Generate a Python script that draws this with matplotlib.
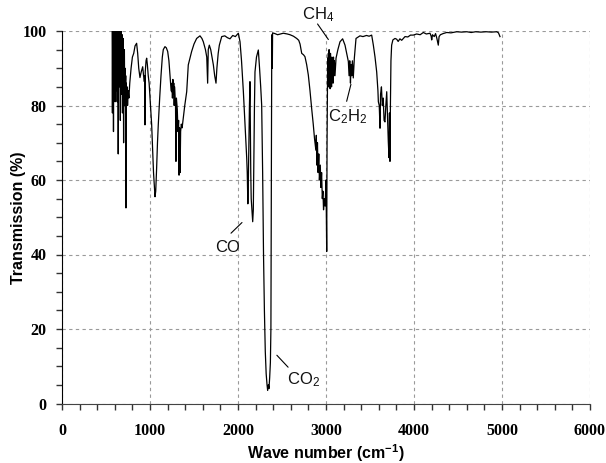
import matplotlib
matplotlib.use("Agg")
import matplotlib.pyplot as plt
from matplotlib.ticker import MultipleLocator

# Spectrum (wave number in cm-1, transmission in %)
wavenumber = [
    570, 573, 576, 579, 582, 585, 588, 591, 594, 597, 600, 603, 606, 609, 612, 615, 618, 621, 624, 627,
    630, 633, 636, 639, 642, 645, 648, 651, 654, 657, 660, 663, 666, 669, 672, 675, 678, 681, 684, 687,
    690, 693, 696, 700, 703, 706, 709, 713, 717, 721, 724, 727, 730, 735, 740, 745, 752, 760, 770, 785,
    800, 815, 830, 848, 860, 872, 886, 900, 917, 927, 936, 940, 943, 946, 955, 962, 970, 980, 990, 1000,
    1010, 1019, 1030, 1040, 1049, 1057, 1065, 1075, 1085, 1094, 1110, 1125, 1140, 1151, 1170, 1185, 1201,
    1215, 1227, 1240, 1246, 1250, 1255, 1260, 1265, 1270, 1275, 1280, 1290, 1295, 1300, 1310, 1318, 1325,
    1330, 1336, 1342, 1348, 1356, 1365, 1378, 1395, 1417, 1435, 1473, 1500, 1530, 1568, 1590, 1606, 1630,
    1645, 1655, 1662, 1674, 1690, 1705, 1720, 1735, 1750, 1760, 1775, 1788, 1815, 1850, 1880, 1909, 1940,
    1970, 2004, 2023, 2040, 2061, 2080, 2099, 2105, 2112, 2118, 2124, 2130, 2136, 2140, 2145, 2150, 2158,
    2167, 2174, 2180, 2187, 2193, 2210, 2231, 2245, 2258, 2269, 2280, 2290, 2300, 2310, 2320, 2330, 2337,
    2345, 2352, 2360, 2368, 2374, 2378, 2381, 2383, 2386, 2390, 2393, 2420, 2450, 2515, 2560, 2591, 2630,
    2667, 2690, 2705, 2724, 2745, 2761, 2780, 2799, 2818, 2837, 2855, 2870, 2885, 2890, 2896, 2903, 2910,
    2918, 2925, 2935, 2942, 2950, 2958, 2965, 2972, 2980, 2990, 3000, 3005, 3008, 3012, 3019, 3023, 3027,
    3031, 3035, 3039, 3043, 3047, 3051, 3055, 3059, 3063, 3067, 3071, 3075, 3080, 3085, 3090, 3095, 3102,
    3114, 3135, 3159, 3189, 3216, 3235, 3254, 3262, 3270, 3278, 3285, 3292, 3300, 3310, 3316, 3322, 3330,
    3341, 3386, 3420, 3460, 3490, 3519, 3538, 3557, 3576, 3590, 3595, 3605, 3614, 3620, 3630, 3640, 3650,
    3660, 3670, 3680, 3690, 3700, 3708, 3716, 3721, 3727, 3732, 3738, 3746, 3760, 3784, 3803, 3820, 3840,
    3860, 3898, 3930, 3960, 3992, 4030, 4070, 4106, 4140, 4182, 4195, 4201, 4210, 4230, 4245, 4260, 4276,
    4285, 4300, 4330, 4371, 4420, 4485, 4540, 4600, 4650, 4700, 4760, 4820, 4880, 4940, 4960, 4977,
]
transmission = [
    100, 78, 100, 92, 100, 73, 100, 90, 100, 86, 100, 81, 99, 90, 100, 84, 100, 93, 100, 81,
    99, 88, 100, 67, 98, 90, 100, 85, 98, 92, 100, 76, 98, 88, 100, 83, 96, 90, 99, 78,
    95, 88, 98, 70, 92, 85, 95, 80, 90, 83, 88, 52.5, 86, 82, 85, 80, 84, 82, 86, 90,
    93, 94, 96, 96.7, 94, 90, 87.5, 89, 90.4, 88, 86.4, 88, 74.8, 89, 92, 92.7, 91, 88, 86, 82,
    78, 74.8, 68, 62, 58.7, 55.5, 57, 63, 70, 74.8, 82, 88, 93, 95, 95.8, 95.5, 94.5,
    92, 88, 84, 83.7, 86, 82, 87, 83, 86, 80, 85, 80, 65, 82, 79, 73, 76,
    61.3, 74, 62, 73, 75, 74, 76.5, 80, 83.7, 90.9, 94.5, 96.5, 98, 98.7, 98, 97.1, 95,
    93, 86, 95, 96.2, 95, 93, 90.9, 88, 86, 90, 94, 96.2, 98.5, 98.7, 98.2, 97.9, 98.8,
    98.5, 99.4, 97.1, 92, 83.7, 74.8, 65.9, 62, 53.6, 60.5, 70, 80, 86.4, 75, 62, 55, 52,
    48.8, 52, 65, 80, 89, 93, 94.9, 90, 85, 80.1, 62, 40, 25, 14, 8, 5, 3.5,
    5, 4, 7, 11, 20, 50, 80, 92, 99, 90, 99.5, 99.3, 99, 99.4, 99.2, 99, 98.6,
    98, 97.5, 96.5, 94, 93.6, 93.1, 91, 88.2, 84, 79.2, 75, 71, 68, 72, 64, 70, 62,
    67, 60, 64, 58, 62, 55, 57, 52, 55, 53, 60, 48, 40.8, 70, 92.7, 88, 94,
    85, 95, 86, 93, 84.5, 94, 86, 92, 85, 93, 87, 91, 86, 93, 88, 92, 88,
    92.7, 95, 97.1, 97.9, 96.2, 94, 91.8, 88, 92, 86, 91, 88, 92, 87.4, 90, 92.7, 95,
    98, 98.7, 98.5, 98.8, 98.6, 98.9, 96.2, 93, 89, 84, 81, 80, 73.9, 83, 85, 80, 82,
    76, 75.6, 80, 83.7, 76, 70.3, 66, 78, 65, 80, 92, 96.2, 97.6, 98, 97.8, 97.2, 97.9,
    97.5, 98.5, 98.4, 98.9, 98.9, 99.2, 99, 99.6, 99.2, 99.4, 98.6, 97.6, 99, 98.5, 99.3, 98, 96.2,
    98.5, 99, 99.3, 99.6, 99.5, 99.8, 99.7, 99.8, 99.6, 99.8, 99.7, 99.8, 99.7, 99.8, 99.5, 98.5,
]

x_ticks = [0, 1000, 2000, 3000, 4000, 5000, 6000]
y_ticks = [0, 20, 40, 60, 80, 100]

# gas labels: text, text position, line start, line end
gas_labels = ["CO", "CO$_2$", "CH$_4$", "C$_2$H$_2$"]
label_pos = [(1886, 42), (2742, 6.5), (2909, 104.3), (3250, 77)]
line_from = [(1898, 45.2), (2420, 13.5), (2886, 102.5), (3227, 80.4)]
line_to = [(2068, 49.1), (2591, 9.2), (3045, 97.1), (3291, 86.4)]

narrow = ["Liberation Sans Narrow", "Liberation Sans", "DejaVu Sans"]
plt.rcParams["mathtext.default"] = "regular"

fig = plt.figure(figsize=(6.06, 4.63), dpi=100)
ax = fig.add_axes([62 / 606, 1 - 403.5 / 463, 528 / 606, 372.5 / 463])

ax.plot(wavenumber, transmission, color="black", lw=0.9, zorder=3)

ax.set_xlim(0, 6000)
ax.set_ylim(0, 100)
ax.set_xticks(x_ticks)
ax.set_yticks(y_ticks)
ax.xaxis.set_minor_locator(MultipleLocator(200))
ax.yaxis.set_minor_locator(MultipleLocator(5))
ax.tick_params(which="both", direction="out", length=4, width=1, color="#333333")
ax.tick_params(axis="x", pad=10)
ax.tick_params(axis="y", pad=7)

for lab in ax.get_xticklabels() + ax.get_yticklabels():
    lab.set_family("Liberation Serif")
    lab.set_fontweight("bold")
    lab.set_fontsize(11.5)

ax.grid(True, which="major", color="#9a9a9a", linestyle=(0, (3, 3)), lw=0.8)
for s in ["top", "right"]:
    ax.spines[s].set_visible(False)
ax.spines["left"].set_color("black")
ax.spines["bottom"].set_color("#444444")

ax.set_xlabel("Wave number (cm$^{-1}$)", family=narrow, fontweight="bold", fontsize=11.5)
ax.set_ylabel("Transmission (%)", family=narrow, fontweight="bold", fontsize=11.5)
ax.xaxis.set_label_coords(0.5, -0.132)
ax.yaxis.set_label_coords(-0.083, 0.5)
ax.xaxis.label.set_va("center")
ax.yaxis.label.set_va("center")

for text, pos, p0, p1 in zip(gas_labels, label_pos, line_from, line_to):
    ax.annotate("", xy=p1, xytext=p0, arrowprops=dict(arrowstyle="-", color="black", lw=0.8),
                annotation_clip=False)
    ax.text(pos[0], pos[1], text, family=narrow, fontsize=12, ha="center", va="center",
            clip_on=False, color="#111111")

fig.savefig("out.png", dpi=100)
